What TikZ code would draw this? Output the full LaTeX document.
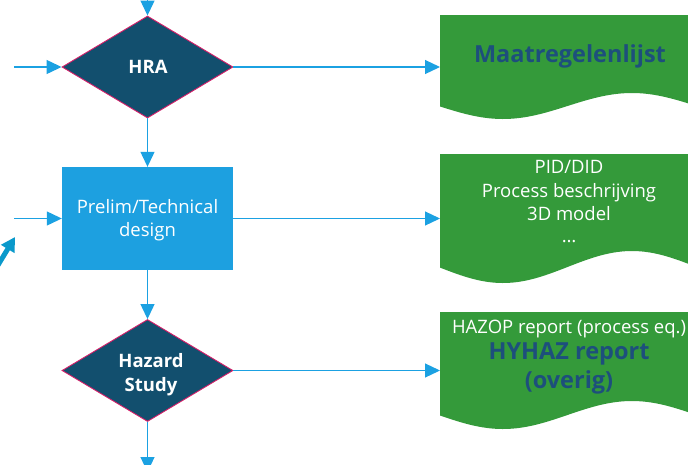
\documentclass[tikz,border=0pt]{standalone}
\usepackage{fontspec}
\setmainfont{Open Sans}
\usetikzlibrary{shapes.geometric,arrows.meta}
\definecolor{arrowblue}{HTML}{1BA1E2}
\definecolor{rectblue}{HTML}{1DA0E0}
\definecolor{darkfill}{HTML}{124F6E}
\definecolor{pinkline}{HTML}{D61F69}
\definecolor{docgreen}{HTML}{349A3A}
\definecolor{darktext}{HTML}{1D4F7C}
\definecolor{tealarrow}{HTML}{0A99CB}
\begin{document}
\begin{tikzpicture}[x=1pt,y=-1pt,
  flow/.style={draw=arrowblue, line width=1.2pt, -{Triangle[length=15pt,width=14pt]}},
  decision/.style={diamond, draw=pinkline, line width=0.9pt, fill=darkfill, inner sep=0pt,
    minimum width=171pt, minimum height=102pt, aspect=1.68},
  process/.style={rectangle, fill=rectblue, inner sep=0pt, minimum width=171pt, minimum height=103pt},
  wlabel/.style={text=white, font=\fontsize{18.5}{22}\selectfont, anchor=base, inner sep=0pt},
  wbold/.style={text=white, font=\fontsize{18.5}{22}\selectfont\bfseries, anchor=base, inner sep=0pt},
  blabel/.style={text=darktext, font=\fontsize{23.5}{28}\selectfont\bfseries, anchor=base, inner sep=0pt},
  tealflow/.style={draw=tealarrow, line width=5pt, -{Triangle[length=14pt,width=15pt]}}
]
\useasboundingbox (0,0) rectangle (688,464);
\clip (0,0) rectangle (688,464);

% documents
\fill[docgreen] (440,15) -- (700,15) -- plot[domain=700:440, samples=80] (\x,{106+13*cos((\x-503)/129*180)}) -- cycle;
\fill[docgreen] (440,154) -- (700,154) -- plot[domain=700:440, samples=80] (\x,{267+16*cos((\x-503)/129*180)}) -- cycle;
\fill[docgreen] (440,312) -- (700,312) -- plot[domain=700:440, samples=80] (\x,{415+14*cos((\x-503)/129*180)}) -- cycle;

% shapes
\node[decision] (hra) at (147.5,67) {};
\node[process] (prelim) at (147.5,218.5) {};
\node[decision] (haz) at (147.5,370.5) {};

% coordinates
\coordinate (topsrc) at (147.5,-20);
\coordinate (lin1) at (14,67);
\coordinate (lin2) at (14,218.5);
\coordinate (botout) at (147.5,472);
\coordinate (d1in) at (440,67);
\coordinate (d2in) at (440,218.5);
\coordinate (d3in) at (440,370.5);
\coordinate (tealtail) at (-5,270);
\coordinate (tealtip) at (15,237);

% connectors
\draw[flow] (topsrc) -- (hra.north);
\draw[flow] (lin1) -- (hra.west);
\draw[flow] (lin2) -- (prelim.west);
\draw[flow] (hra.south) -- (prelim.north);
\draw[flow] (prelim.south) -- (haz.north);
\draw[flow] (haz.south) -- (botout);
\draw[flow] (hra.east) -- (d1in);
\draw[flow] (prelim.east) -- (d2in);
\draw[flow] (haz.east) -- (d3in);
\draw[tealflow] (tealtail) -- (tealtip);

% texts
\node[wbold] (hratxt) at (148,73) {HRA};
\node[wlabel] (p1) at (147.5,213) {Prelim/Technical};
\node[wlabel] (p2) at (147.5,236) {design};
\node[wbold] (h1) at (151,367) {Hazard};
\node[wbold] (h2) at (151,391) {Study};

\node[blabel] (m1) at (570,62) {Maatregelenlijst};

\node[wlabel] (d2a) at (569,173) {PID/DID};
\node[wlabel] (d2b) at (569,197) {Process beschrijving};
\node[wlabel] (d2c) at (569,220) {3D model};
\node[wlabel] (d2d) at (569,242) {…};

\node[wlabel] (d3a) at (569,333) {HAZOP report (process eq.)};
\node[blabel] (d3b) at (569,359) {HYHAZ report};
\node[blabel] (d3c) at (569,388) {(overig)};
\end{tikzpicture}
\end{document}
